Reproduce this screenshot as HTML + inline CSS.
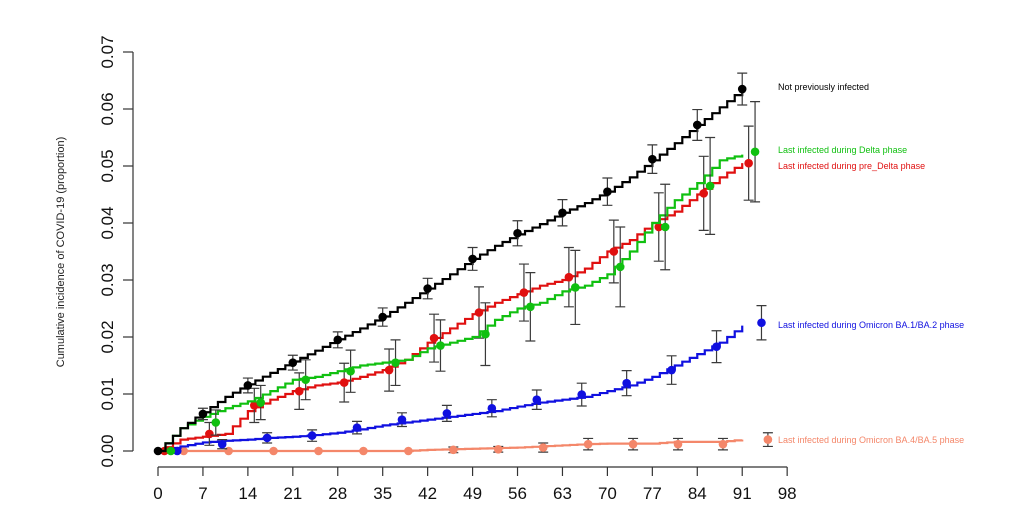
<!DOCTYPE html>
<html><head><meta charset="utf-8"><style>
body{margin:0;background:#fff}
svg{display:block;font-family:"Liberation Sans",Arial,sans-serif}
</style></head><body>
<svg id="chart" width="1024" height="526" viewBox="0 0 1024 526">
<g id="axes"></g>
<g id="series"></g>
<text x="64" y="252" transform="rotate(-90 64 252)" text-anchor="middle" font-size="11" fill="#222">Cumulative incidence of COVID-19 (proportion)</text>
</svg>
<script>
const xTicks=[0,7,14,21,28,35,42,49,56,63,70,77,84,91,98];
const yTicks=[0,0.01,0.02,0.03,0.04,0.05,0.06,0.07];
const yTickLabels=["0.00","0.01","0.02","0.03","0.04","0.05","0.06","0.07"];
const curveDays=[0,3.5,7,10.5,14,17.5,21,24.5,28,31.5,35,38.5,42,45.5,49,52.5,56,59.5,63,66.5,70,73.5,77,80.5,84,87.5,91];
const blackCurve=[0,.004,.0068,.0095,.0117,.0137,.0157,.0176,.0196,.0215,.0236,.026,.0285,.031,.0337,.036,.038,.0398,.0418,.0435,.0455,.048,.051,.054,.0572,.0603,.0635];
const greenCurve=[0,.004,.006,.0075,.0087,.0105,.0125,.013,.014,.015,.0155,.016,.018,.019,.020,.023,.025,.026,.028,.029,.031,.035,.040,.044,.047,.051,.052];
const redCurve=[0,.002,.0025,.003,.007,.009,.0105,.0115,.012,.013,.0142,.016,.019,.0215,.024,.026,.0275,.029,.030,.032,.035,.037,.040,.042,.045,.048,.0505];
const blueCurve=[0,.0008,.0015,.0018,.002,.0023,.0025,.0028,.0032,.0038,.0045,.005,.0055,.006,.0065,.007,.0078,.0085,.009,.0095,.0105,.0115,.013,.015,.017,.019,.022];
const orangeCurve=[0,0,0,0,0,0,0,0,0,0,0,0,.0002,.0003,.0004,.0005,.0006,.0008,.001,.0012,.0013,.0013,.0013,.0016,.0016,.0016,.002];
const blackDays=[0,7,14,21,28,35,42,49,56,63,70,77,84,91];
const blackVals=[0,.0065,.0115,.0155,.0195,.0235,.0285,.0337,.0382,.0418,.0455,.0512,.0572,.0635];
const blackErr=[0,.001,.0013,.0013,.0014,.0016,.0018,.002,.0022,.0023,.0024,.0025,.0027,.0028];
const redDays=[1,8,15,22,29,36,43,50,57,64,71,78,85,92];
const redVals=[0,.003,.008,.0105,.012,.0142,.0198,.0243,.0278,.0305,.035,.0393,.0452,.0505];
const redErr=[0,.002,.003,.0032,.0034,.0037,.0042,.0045,.005,.0052,.0055,.006,.0065,.0065];
const greenDays=[2,9,16,23,30,37,44,51,58,65,72,79,86,93];
const greenVals=[0,.005,.0085,.0125,.014,.0155,.0185,.0205,.0253,.0287,.0323,.0393,.0465,.0525];
const greenErr=[0,.0022,.003,.0035,.0037,.004,.0045,.0055,.006,.0065,.007,.0075,.0085,.0088];
const blueDays=[3,10,17,24,31,38,45,52,59,66,73,80,87,94];
const blueVals=[0,.0012,.0023,.0027,.0041,.0055,.0066,.0075,.009,.0099,.0119,.0142,.0183,.0225];
const blueErr=[0,.0008,.0009,.001,.0011,.0012,.0014,.0015,.0017,.002,.0022,.0025,.0028,.003];
const orangeDays=[4,11,18,25,32,39,46,53,60,67,74,81,88,95];
const orangeVals=[0,0,0,0,0,0,.0002,.0003,.0006,.0012,.0012,.0012,.0012,.002];
const orangeErr=[0,0,0,0,0,0,.0005,.0005,.0008,.001,.001,.001,.001,.0012];
const seriesNames=["Not previously infected","Last infected during Delta phase","Last infected during pre_Delta phase","Last infected during Omicron BA.1/BA.2 phase","Last infected during Omicron BA.4/BA.5 phase"];

const NS="http://www.w3.org/2000/svg";
const X=d=>158+d*6.42;
const Y=v=>451-v*5700;
function mk(tag,attrs,parent){const e=document.createElementNS(NS,tag);for(const k in attrs)e.setAttribute(k,attrs[k]);parent.appendChild(e);return e;}
const axes=document.getElementById('axes'),ser=document.getElementById('series');

const yl=mk('line',{x1:133,x2:133,y1:Y(0),y2:Y(0.07),stroke:'#333','stroke-width':1.2},axes);


yTicks.forEach((t,i)=>{
 const tk=mk('line',{x1:123,x2:133,y1:Y(t),y2:Y(t),stroke:'#333','stroke-width':1.2},axes);
 
 
 const tx=mk('text',{x:113,y:Y(t),transform:`rotate(-90 113 ${Y(t)})`,'text-anchor':'middle','font-size':17,fill:'#111'},axes);
 tx.textContent=yTickLabels[i];
 
 
});
const xl=mk('line',{x1:X(0),x2:X(98),y1:467,y2:467,stroke:'#333','stroke-width':1.2},axes);


xTicks.forEach(t=>{
 const tk=mk('line',{x1:X(t),x2:X(t),y1:467,y2:476,stroke:'#333','stroke-width':1.2},axes);
 
 
 const tx=mk('text',{x:X(t),y:499,'text-anchor':'middle','font-size':17,fill:'#111'},axes);
 tx.textContent=t;
 
 
});

const defs=[
 {c:'#f4876a',curve:orangeCurve,days:orangeDays,vals:orangeVals,err:orangeErr,ly:440,n:4,key:'omicron-ba45'},
 {c:'#1010e0',curve:blueCurve,days:blueDays,vals:blueVals,err:blueErr,ly:325,n:3,key:'omicron-ba12'},
 {c:'#e01010',curve:redCurve,days:redDays,vals:redVals,err:redErr,ly:166,n:2,key:'pre-delta'},
 {c:'#10c010',curve:greenCurve,days:greenDays,vals:greenVals,err:greenErr,ly:150,n:1,key:'delta'},
 {c:'#000',curve:blackCurve,days:blackDays,vals:blackVals,err:blackErr,ly:87,n:0,key:'not-previously-infected'}
];
const SUB=3;
defs.forEach(s=>{
 let d=`M${X(curveDays[0])},${Y(s.curve[0])}`;
 for(let i=1;i<curveDays.length;i++){
  const d0=curveDays[i-1],d1=curveDays[i],v0=s.curve[i-1],v1=s.curve[i];
  for(let k=1;k<=SUB;k++){
   const xk=X(d0+(d1-d0)*k/SUB);
   d+=`H${xk}V${Y(v0+(v1-v0)*k/SUB)}`;
  }
 }
 const p=mk('path',{d,fill:'none',stroke:s.c,'stroke-width':2.2},ser);
 
 
 s.days.forEach((dd,i)=>{
  const x=X(dd),v=s.vals[i],e=s.err[i];
  if(e>0){
   const eb=mk('path',{d:`M${x},${Y(v+e)}V${Y(v-e)}M${x-5},${Y(v+e)}H${x+5}M${x-5},${Y(v-e)}H${x+5}`,stroke:'#3a3a3a','stroke-width':1.2,fill:'none'},ser);
   
   
  }
  const m=mk('circle',{cx:x,cy:Y(v),r:4.3,fill:s.c},ser);
  
  
 });
 const t=mk('text',{x:778,y:s.ly+3,'font-size':9,fill:s.c},ser);
 t.textContent=seriesNames[s.n];
 
 
});
</script>
</body></html>
